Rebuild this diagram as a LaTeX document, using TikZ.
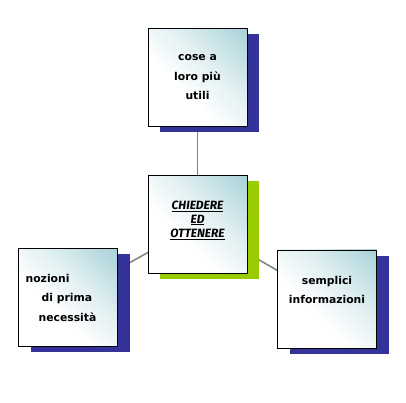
\documentclass[tikz,border=0pt]{standalone}
\usepackage{fontspec}
\setmainfont{DejaVu Sans}
\newfontfamily\titlefont{Fira Sans}
\usetikzlibrary{shadows,backgrounds}

\definecolor{navyshadow}{RGB}{51,51,153}
\definecolor{limeshadow}{RGB}{153,204,0}
\definecolor{tealtop}{RGB}{168,210,216}
\definecolor{tealmid}{RGB}{224,239,241}
\definecolor{linkgray}{RGB}{128,128,128}
\pgfdeclareverticalshading{cardfade}{100bp}{color(0bp)=(white); color(40bp)=(white);
  color(60bp)=(tealmid); color(85bp)=(tealtop); color(100bp)=(tealtop)}

\begin{document}
\begin{tikzpicture}[
    x=1pt, y=1pt,
    every node/.style={font=\fontsize{10.8}{19.5}\selectfont\bfseries},
    card/.style={draw=black, line width=0.8pt, minimum width=99pt, minimum height=98pt,
        inner sep=0pt, align=center, shading=cardfade, shading angle=-45},
    navycard/.style={card, general shadow={fill=navyshadow, shadow xshift=12pt, shadow yshift=-6pt}},
    limecard/.style={card, general shadow={fill=limeshadow, shadow xshift=12pt, shadow yshift=-6pt}},
    link/.style={draw=linkgray, line width=1.5pt}
]
\useasboundingbox (0,0) rectangle (406,403);
\node[navycard] (useful) at (197.5,325.5) {cose a\\loro più\\utili};
\node[limecard, font=\titlefont\fontsize{12}{14}\selectfont\bfseries\itshape] (ask) at (197.5,178.5)
    {\underline{CHIEDERE}\\\underline{ED}\\\underline{OTTENERE}\\[-3pt]};
\node[navycard, align=left] (basics) at (68,105.5)
    {nozioni\\\hspace*{16pt}di prima\\\hspace*{13pt}necessità\hspace*{14pt}};
\node[navycard] (info) at (327,104) {semplici\\informazioni\\[-1.5pt]};
\begin{scope}[on background layer]
\draw[link] (ask.center) -- (useful.center);
\draw[link] (ask.center) -- (basics.center);
\draw[link] (ask.center) -- (info.center);
\end{scope}
\end{tikzpicture}
\end{document}
